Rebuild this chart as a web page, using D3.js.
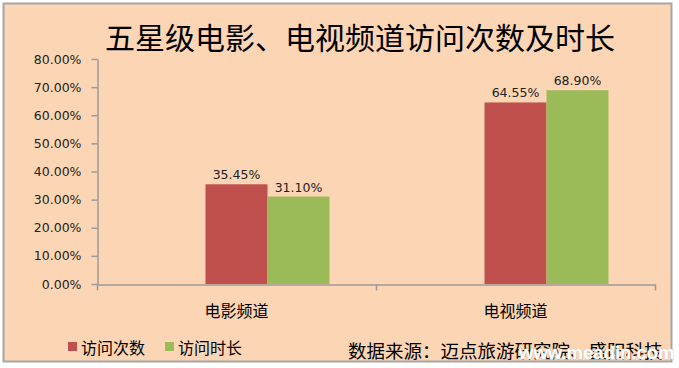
<!DOCTYPE html>
<html>
<head>
<meta charset="utf-8">
<script src="https://cdn.jsdelivr.net/npm/d3@7"></script>
<style>
  body { margin: 0; background: #fff; }
  svg { display: block; }
</style>
</head>
<body>
<div id="chart"></div>
<script>
// Grouped bar chart: five-star hotel movie / TV channel visits and duration.
const categories = ["电影频道", "电视频道"];
const seriesNames = ["访问次数", "访问时长"];
const visits = [0.3545, 0.6455];
const duration = [0.311, 0.689];
const yTicks = [0, 0.1, 0.2, 0.3, 0.4, 0.5, 0.6, 0.7, 0.8];
const title = "五星级电影、电视频道访问次数及时长";
const sourceNote = "数据来源：迈点旅游研究院、盛阳科技";
const watermark = "www.meadin.com";

const colors = { "访问次数": "#C0504D", "访问时长": "#9BBB59" };
const cjk = "'Noto Sans CJK SC', sans-serif";
const num = "'DejaVu Sans', Verdana, sans-serif";

const W = 679, H = 368;
const plot = { left: 97, right: 655, top: 59, bottom: 284 };

const svg = d3.select("#chart").append("svg").attr("width", W).attr("height", H);

// chart area frame
svg.append("rect")
  .attr("x", 3.5).attr("y", 3.5).attr("width", 668).attr("height", 358)
  .attr("fill", "#FCD5B4").attr("stroke", "#A5A5A5").attr("stroke-width", 2);

svg.append("text")
  .attr("x", 360).attr("y", 36)
  .attr("text-anchor", "middle").attr("dominant-baseline", "central")
  .attr("font-family", cjk).attr("font-size", 30).attr("fill", "#000")
  .text(title);

const y = d3.scaleLinear().domain([0, 0.8]).range([plot.bottom, plot.top]);
const x0 = d3.scaleBand().domain(categories).range([plot.left, plot.right]);
// first slot stays empty, as in the source chart
const x1 = d3.scaleBand().domain(["", ...seriesNames]).range([0, x0.bandwidth()]).paddingOuter(0.75);

// y axis
svg.append("g")
  .attr("transform", `translate(${plot.left + 0.5},0)`)
  .call(d3.axisLeft(y).tickValues(yTicks).tickFormat(d3.format(".2%")).tickSizeInner(6).tickSizeOuter(0).tickPadding(10))
  .call((g) => g.select(".domain").attr("stroke", "#9A9A9A").attr("stroke-width", 1.5))
  .call((g) => g.selectAll(".tick line").attr("stroke", "#9A9A9A").attr("stroke-width", 1.5))
  .call((g) => g.selectAll(".tick text").attr("fill", "#222").attr("font-family", num).attr("font-size", 12.5));

// x axis: line with boundary ticks, labels at band centre
const xb = d3.scaleLinear().domain([0, categories.length]).range([plot.left, plot.right]);
svg.append("g")
  .attr("transform", `translate(0,${plot.bottom + 0.5})`)
  .call(d3.axisBottom(xb).ticks(categories.length).tickFormat("").tickSizeInner(6).tickSizeOuter(0))
  .call((g) => g.select(".domain").attr("stroke", "#9A9A9A").attr("stroke-width", 1.5))
  .call((g) => g.selectAll(".tick line").attr("stroke", "#9A9A9A").attr("stroke-width", 1.5));

svg.append("g")
  .selectAll("text")
  .data(categories)
  .join("text")
  .attr("x", (d) => x0(d) + x0.bandwidth() / 2)
  .attr("y", 310)
  .attr("text-anchor", "middle").attr("dominant-baseline", "central")
  .attr("font-family", cjk).attr("font-size", 16).attr("fill", "#000")
  .text((d) => d);

const rows = categories.map((c, i) => ({
  cat: c,
  vals: [
    { s: seriesNames[0], v: visits[i] },
    { s: seriesNames[1], v: duration[i] },
  ],
}));

const groups = svg.append("g")
  .selectAll("g")
  .data(rows)
  .join("g")
  .attr("transform", (d) => `translate(${x0(d.cat)},0)`);

groups.selectAll("rect")
  .data((d) => d.vals)
  .join("rect")
  .attr("x", (d) => x1(d.s))
  .attr("y", (d) => y(d.v))
  .attr("width", x1.bandwidth())
  .attr("height", (d) => y(0) - y(d.v))
  .attr("fill", (d) => colors[d.s]);

groups.selectAll("text")
  .data((d) => d.vals)
  .join("text")
  .attr("x", (d) => x1(d.s) + x1.bandwidth() / 2)
  .attr("y", (d) => y(d.v) - 5)
  .attr("text-anchor", "middle")
  .attr("font-family", num).attr("font-size", 12.5).attr("fill", "#222")
  .text((d) => d3.format(".2%")(d.v));

// legend
const legendX = [68, 165];
const leg = svg.append("g")
  .selectAll("g")
  .data(seriesNames)
  .join("g")
  .attr("transform", (d, i) => `translate(${legendX[i]},342)`);
leg.append("rect").attr("width", 9).attr("height", 9).attr("fill", (d) => colors[d]);
leg.append("text")
  .attr("x", 13).attr("y", 4.5)
  .attr("dominant-baseline", "central")
  .attr("font-family", cjk).attr("font-size", 16).attr("fill", "#000")
  .text((d) => d);

svg.append("text")
  .attr("x", 348).attr("y", 350)
  .attr("dominant-baseline", "central")
  .attr("font-family", cjk).attr("font-size", 18.5).attr("fill", "#000")
  .text(sourceNote);

svg.append("text")
  .attr("x", 519).attr("y", 359)
  .attr("font-family", "'Liberation Sans', Arial, sans-serif").attr("font-weight", "bold")
  .attr("font-size", 18.5).attr("fill", "#fff")
  .attr("stroke", "#bbb").attr("stroke-width", 0.6).attr("paint-order", "stroke")
  .text(watermark);
</script>
</body>
</html>
